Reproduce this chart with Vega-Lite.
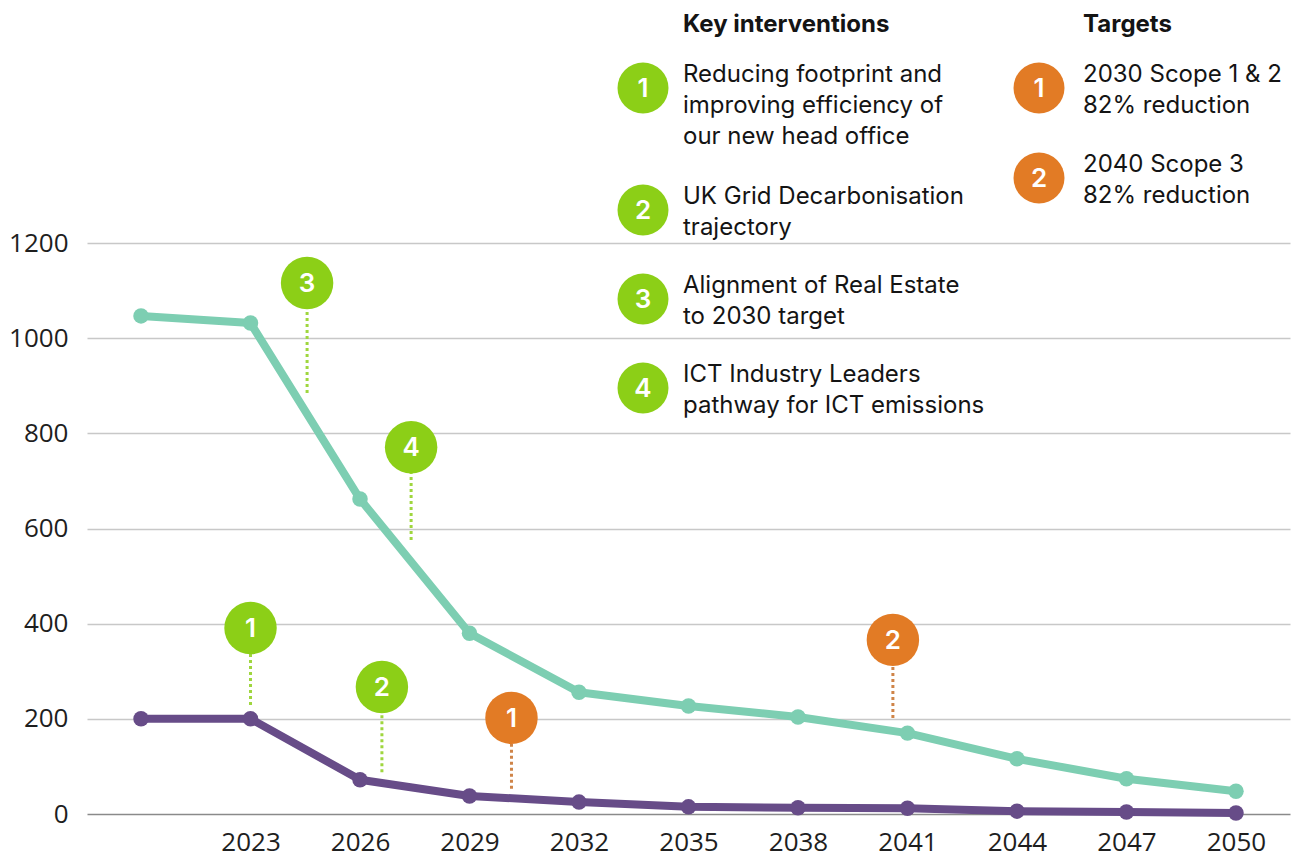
{
  "$schema": "https://vega.github.io/schema/vega-lite/v6.json",
  "width": 1203,
  "height": 814,
  "autosize": {"type": "none"},
  "padding": {"left": 87, "top": 0, "right": 3, "bottom": 45},
  "background": "white",
  "config": {"view": {"stroke": null}, "font": "Inter"},
  "datasets": {
    "emissions": [
      {"series": "Scope 1, 2 & 3", "year": 2020, "value": 1047},
      {"series": "Scope 1, 2 & 3", "year": 2023, "value": 1032},
      {"series": "Scope 1, 2 & 3", "year": 2026, "value": 662},
      {"series": "Scope 1, 2 & 3", "year": 2029, "value": 380},
      {"series": "Scope 1, 2 & 3", "year": 2032, "value": 256},
      {"series": "Scope 1, 2 & 3", "year": 2035, "value": 227},
      {"series": "Scope 1, 2 & 3", "year": 2038, "value": 204},
      {"series": "Scope 1, 2 & 3", "year": 2041, "value": 170},
      {"series": "Scope 1, 2 & 3", "year": 2044, "value": 116},
      {"series": "Scope 1, 2 & 3", "year": 2047, "value": 74},
      {"series": "Scope 1, 2 & 3", "year": 2050, "value": 48},
      {"series": "Scope 1 & 2", "year": 2020, "value": 200},
      {"series": "Scope 1 & 2", "year": 2023, "value": 200},
      {"series": "Scope 1 & 2", "year": 2026, "value": 72},
      {"series": "Scope 1 & 2", "year": 2029, "value": 38},
      {"series": "Scope 1 & 2", "year": 2032, "value": 25},
      {"series": "Scope 1 & 2", "year": 2035, "value": 15},
      {"series": "Scope 1 & 2", "year": 2038, "value": 13},
      {"series": "Scope 1 & 2", "year": 2041, "value": 12},
      {"series": "Scope 1 & 2", "year": 2044, "value": 6},
      {"series": "Scope 1 & 2", "year": 2047, "value": 4},
      {"series": "Scope 1 & 2", "year": 2050, "value": 2}
    ],
    "markers": [
      {"kind": "intervention", "num": "1", "year": 2023.0, "top": 391, "bottom": 229},
      {"kind": "intervention", "num": "2", "year": 2026.6, "top": 267, "bottom": 88},
      {"kind": "intervention", "num": "3", "year": 2024.55, "top": 1116, "bottom": 885},
      {"kind": "intervention", "num": "4", "year": 2027.4, "top": 771, "bottom": 576},
      {"kind": "target", "num": "1", "year": 2030.15, "top": 202, "bottom": 53},
      {"kind": "target", "num": "2", "year": 2040.6, "top": 366, "bottom": 202}
    ],
    "keyLegend": [
      {"group": "Key interventions", "item": 0, "num": "", "label": "Key interventions"},
      {"group": "Key interventions", "item": 1, "num": "1", "label": "Reducing footprint and\nimproving efficiency of\nour new head office"},
      {"group": "Key interventions", "item": 2, "num": "2", "label": "UK Grid Decarbonisation\ntrajectory"},
      {"group": "Key interventions", "item": 3, "num": "3", "label": "Alignment of Real Estate\nto 2030 target"},
      {"group": "Key interventions", "item": 4, "num": "4", "label": "ICT Industry Leaders\npathway for ICT emissions"}
    ],
    "targetLegend": [
      {"group": "Targets", "item": 0, "num": "", "label": "Targets"},
      {"group": "Targets", "item": 1, "num": "1", "label": "2030 Scope 1 & 2\n82% reduction"},
      {"group": "Targets", "item": 2, "num": "2", "label": "2040 Scope 3\n82% reduction"}
    ]
  },
  "layer": [
    {
      "encoding": {
        "x": {
          "field": "year", "type": "quantitative",
          "scale": {"domain": [2018.52, 2051.48], "nice": false, "zero": false},
          "axis": {
            "title": null, "values": [2023, 2026, 2029, 2032, 2035, 2038, 2041, 2044, 2047, 2050],
            "format": "d", "grid": false, "ticks": false, "domain": false,
            "labelFont": "Open Sans", "labelFontSize": 26, "labelColor": "#1e1e1e",
            "labelPadding": 15
          }
        }
      },
      "layer": [
        {
          "data": {"name": "emissions"},
          "mark": {"type": "line", "strokeWidth": 8, "strokeJoin": "round", "strokeCap": "round"},
          "encoding": {
            "y": {
              "field": "value", "type": "quantitative",
              "scale": {"domain": [0, 1711], "nice": false, "zero": true},
              "axis": {
                "title": null, "values": [0, 200, 400, 600, 800, 1000, 1200], "format": "d",
                "grid": true, "gridWidth": 1.5,
                "gridColor": {"condition": {"test": "datum.value === 0", "value": "#8a8a8a"}, "value": "#c8c8c8"},
                "ticks": false, "domain": false,
                "labelFont": "Open Sans", "labelFontSize": 26, "labelColor": "#1e1e1e",
                "labelPadding": 19
              }
            },
            "color": {
              "field": "series", "type": "nominal",
              "scale": {"domain": ["Scope 1, 2 & 3", "Scope 1 & 2"], "range": ["#7dceb2", "#674c88"]},
              "legend": null
            }
          }
        },
        {
          "data": {"name": "emissions"},
          "mark": {"type": "point", "filled": true, "opacity": 1, "size": 240},
          "encoding": {
            "y": {"field": "value", "type": "quantitative"},
            "color": {"field": "series", "type": "nominal", "legend": null}
          }
        },
        {
          "data": {"name": "markers"},
          "mark": {"type": "rule", "strokeWidth": 3, "strokeDash": [3, 3]},
          "encoding": {
            "y": {"field": "bottom", "type": "quantitative"},
            "y2": {"field": "top"},
            "stroke": {
              "field": "kind", "type": "nominal",
              "scale": {"domain": ["intervention", "target"], "range": ["#9fd63e", "#cf8448"]},
              "legend": null
            }
          }
        },
        {
          "data": {"name": "markers"},
          "mark": {"type": "point", "shape": "circle", "filled": true, "opacity": 1, "size": 2750},
          "encoding": {
            "y": {"field": "top", "type": "quantitative"},
            "fill": {
              "field": "kind", "type": "nominal",
              "scale": {"domain": ["intervention", "target"], "range": ["#8ccf17", "#e27b25"]},
              "legend": null
            }
          }
        },
        {
          "data": {"name": "markers"},
          "mark": {"type": "text", "color": "white", "font": "Inter", "fontSize": 26, "fontWeight": 600, "baseline": "middle", "align": "center", "dy": 1},
          "encoding": {
            "y": {"field": "top", "type": "quantitative"},
            "text": {"field": "num"}
          }
        }
      ]
    },
    {
      "data": {"name": "keyLegend"},
      "encoding": {
        "x": {"field": "group", "type": "nominal", "scale": {"type": "point", "domain": ["Key interventions"], "range": [556, 556]}, "axis": null},
        "y": {"field": "item", "type": "quantitative", "scale": {"domain": [0, 1, 2, 4], "range": [38, 88, 210, 388], "nice": false, "zero": false}, "axis": null}
      },
      "layer": [
        {
          "transform": [{"filter": "datum.item > 0"}],
          "mark": {"type": "point", "shape": "circle", "filled": true, "opacity": 1, "size": 2600, "color": "#8ccf17"}
        },
        {
          "transform": [{"filter": "datum.item > 0"}],
          "mark": {"type": "text", "color": "white", "font": "Inter", "fontSize": 26, "fontWeight": 600, "baseline": "middle", "align": "center", "dy": 1},
          "encoding": {"text": {"field": "num"}}
        },
        {
          "transform": [{"filter": "datum.item > 0"}],
          "mark": {"type": "text", "color": "#141414", "font": "Inter", "fontSize": 24, "align": "left", "baseline": "alphabetic", "dx": 40, "dy": -6, "lineBreak": "\n", "lineHeight": 31},
          "encoding": {"text": {"field": "label"}}
        },
        {
          "transform": [{"filter": "datum.item == 0"}],
          "mark": {"type": "text", "color": "#141414", "font": "Inter", "fontSize": 24, "fontWeight": "bold", "align": "left", "baseline": "alphabetic", "dx": 40, "dy": -6},
          "encoding": {"text": {"field": "label"}}
        }
      ]
    },
    {
      "data": {"name": "targetLegend"},
      "encoding": {
        "x": {"field": "group", "type": "nominal", "scale": {"type": "point", "domain": ["Targets"], "range": [952, 952]}, "axis": null},
        "y": {"field": "item", "type": "quantitative", "scale": {"domain": [0, 1, 2], "range": [38, 88, 178], "nice": false, "zero": false}, "axis": null}
      },
      "layer": [
        {
          "transform": [{"filter": "datum.item > 0"}],
          "mark": {"type": "point", "shape": "circle", "filled": true, "opacity": 1, "size": 2600, "color": "#e27b25"}
        },
        {
          "transform": [{"filter": "datum.item > 0"}],
          "mark": {"type": "text", "color": "white", "font": "Inter", "fontSize": 26, "fontWeight": 600, "baseline": "middle", "align": "center", "dy": 1},
          "encoding": {"text": {"field": "num"}}
        },
        {
          "transform": [{"filter": "datum.item > 0"}],
          "mark": {"type": "text", "color": "#141414", "font": "Inter", "fontSize": 24, "align": "left", "baseline": "alphabetic", "dx": 44, "dy": -6, "lineBreak": "\n", "lineHeight": 31},
          "encoding": {"text": {"field": "label"}}
        },
        {
          "transform": [{"filter": "datum.item == 0"}],
          "mark": {"type": "text", "color": "#141414", "font": "Inter", "fontSize": 24, "fontWeight": "bold", "align": "left", "baseline": "alphabetic", "dx": 44, "dy": -6},
          "encoding": {"text": {"field": "label"}}
        }
      ]
    }
  ],
  "resolve": {"scale": {"x": "independent", "y": "independent"}}
}
